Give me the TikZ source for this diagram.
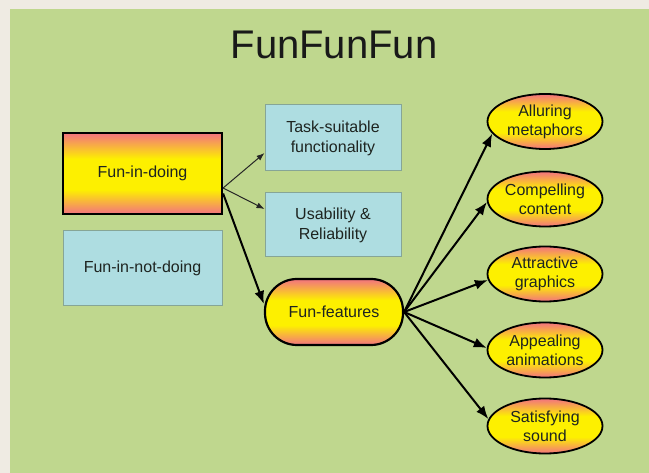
\documentclass[tikz,border=0pt]{standalone}
\usepackage{fontspec}
\setmainfont{Liberation Sans}
\usetikzlibrary{shapes.geometric,arrows.meta}
\definecolor{bgout}{HTML}{EFEBE3}
\definecolor{bggreen}{HTML}{BFD78E}
\definecolor{salmon}{HTML}{F37A78}
\definecolor{yel}{HTML}{FDF000}
\definecolor{bluefill}{HTML}{AEDDE1}
\definecolor{blueline}{HTML}{86A596}
\definecolor{txt}{HTML}{1E2420}
\pgfdeclareverticalshading{funshade}{100bp}{color(0bp)=(salmon); color(26bp)=(salmon); color(40bp)=(yel); color(59bp)=(yel); color(74bp)=(salmon); color(100bp)=(salmon)}
\tikzset{
  funbox/.style={draw=black, line width=2.2pt, shading=funshade,
    text=txt, font=\fontsize{16}{20}\selectfont, align=center, inner sep=0pt},
  bluebox/.style={draw=blueline, line width=1pt, fill=bluefill, text=txt,
    font=\fontsize{16}{20}\selectfont, align=center, inner sep=0pt, minimum width=136pt},
  featbox/.style={funbox, rounded corners=32pt, minimum width=138pt, minimum height=66pt},
  bubble/.style={ellipse, draw=black, line width=1.8pt, shading=funshade,
    text=txt, font=\fontsize{16}{19}\selectfont, align=center, inner sep=0pt,
    minimum width=115pt, minimum height=55pt},
  thinarrow/.style={draw=black!85, line width=1pt, -{Latex[length=8pt,width=6pt]}},
  thickarrow/.style={draw=black, line width=2pt, -{Latex[length=13pt,width=10pt]}}
}
\begin{document}
\begin{tikzpicture}[x=1pt,y=-1pt]
\useasboundingbox (0,0) rectangle (649,473);
\fill[bgout] (0,0) rectangle (649,473);
\fill[bggreen] (10,9) rectangle (649,473);
\node[font=\fontsize{40}{46}\selectfont, text=black!90] (title) at (334,45) {FunFunFun};

\node[funbox, minimum width=159pt, minimum height=81pt] (fid) at (142.5,173.5) {Fun-in-doing};
\node[bluebox, minimum width=159pt, minimum height=75pt] (find) at (142.5,268.5) {Fun-in-not-doing};
\node[bluebox, minimum height=66pt] (task) at (333,138) {Task-suitable\\functionality};
\node[bluebox, minimum height=64pt] (usab) at (333,225) {Usability \&\\Reliability};
\node[featbox] (ff) at (334,312) {Fun-features};

\node[bubble] (a1) at (545,121.5) {Alluring\\metaphors};
\node[bubble] (a2) at (545,199) {Compelling\\content};
\node[bubble] (a3) at (545,274) {Attractive\\graphics};
\node[bubble] (a4) at (545,350) {Appealing\\animations};
\node[bubble] (a5) at (545,426) {Satisfying\\sound};

\draw[thinarrow] ([yshift=-14.5pt]fid.east) -- ([yshift=-15pt]task.west);
\draw[thinarrow] ([yshift=-14.5pt]fid.east) -- ([yshift=16pt]usab.west);
\draw[thickarrow] ([yshift=-20pt]fid.east) -- ([yshift=8pt]ff.west);

\draw[thickarrow] (ff.east) -- (a1.193);
\draw[thickarrow] (ff.east) -- (a2.183);
\draw[thickarrow] (ff.east) -- (a3.186);
\draw[thickarrow] (ff.east) -- (a4.178);
\draw[thickarrow] (ff.east) -- (a5.173);
\end{tikzpicture}
\end{document}
